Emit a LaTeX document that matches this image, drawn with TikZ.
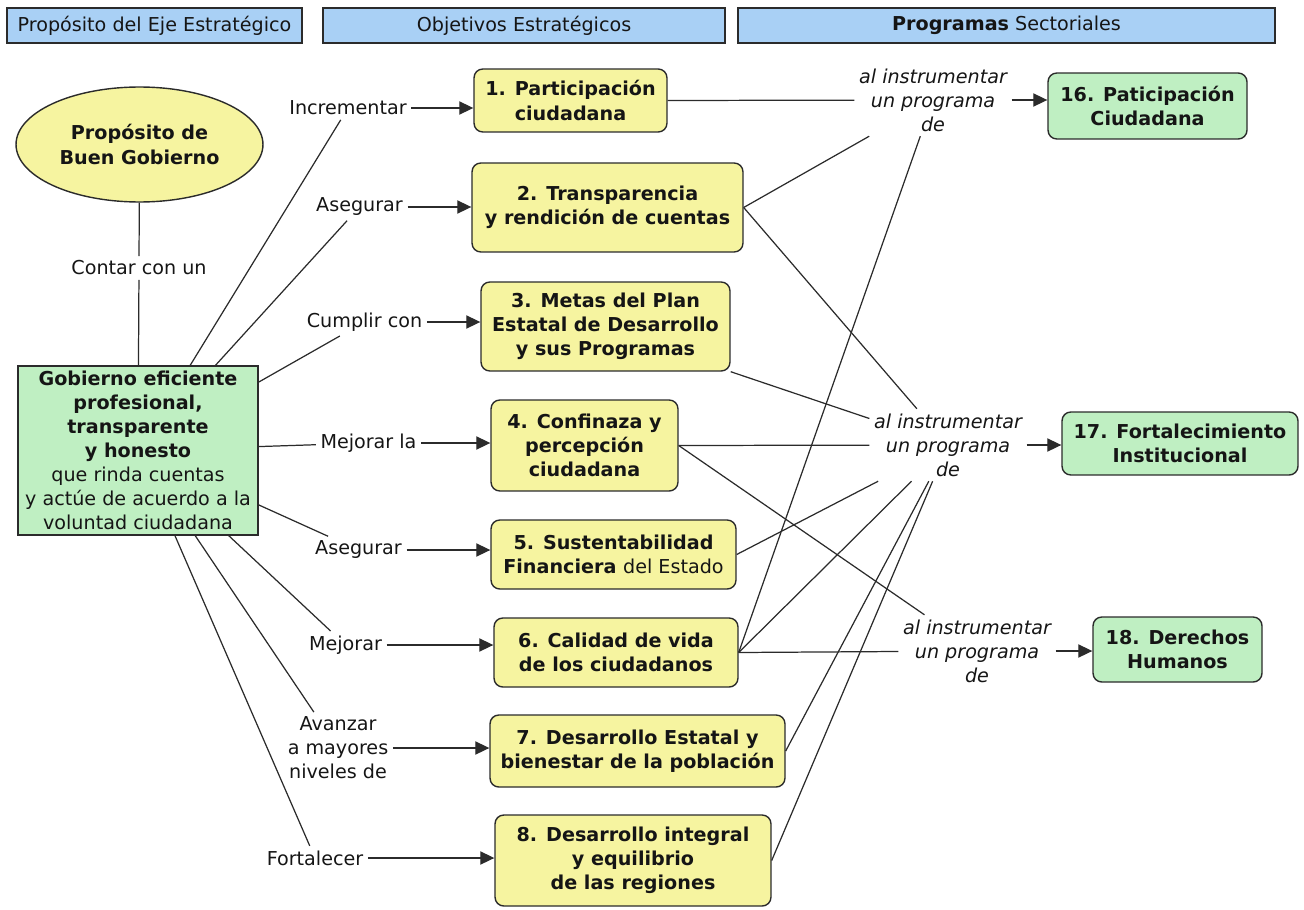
\documentclass[tikz,border=0pt]{standalone}
\usepackage{fontspec}
\setmainfont{DejaVu Sans}
\usetikzlibrary{positioning, arrows.meta, shapes.geometric, calc}
\definecolor{ink}{HTML}{151515}
\definecolor{edge}{HTML}{2B2B2B}
\definecolor{hdrblue}{HTML}{A9D0F5}
\definecolor{objyellow}{HTML}{F6F4A0}
\definecolor{prggreen}{HTML}{BFEFC2}
\tikzset{
  hd/.style={draw=edge, fill=hdrblue, text=ink, line width=0.8pt,
    minimum height=0.7cm, inner sep=0pt},
  obj/.style={rounded corners=5pt, draw=edge, line width=0.8pt, fill=objyellow,
    text=ink, font=\bfseries, align=center, inner sep=2pt},
  prg/.style={obj, fill=prggreen},
  vrb/.style={text=ink, align=center, inner sep=2.5pt},
  via/.style={vrb, font=\itshape},
  link/.style={line width=0.7pt, color=edge},
  flow/.style={-{Triangle[length=8pt,width=7.5pt]}, line width=0.8pt, color=edge},
}

\begin{document}
\fontsize{10.9}{13.7}\selectfont
\begin{tikzpicture}[x=0.02cm, y=-0.02cm]
  \useasboundingbox (0,0) rectangle (1304,909);
  % encabezados
  \node[hd, minimum width=5.9cm] (h1) at (154.5,25.5) {Propósito del Eje Estratégico};
  \node[hd, minimum width=8.04cm] (h2) at (524,25.5) {Objetivos Estratégicos};
  \node[hd, minimum width=10.74cm] (h3) at (1006.5,25.5) {\textbf{Programas} Sectoriales};

  % proposito y gobierno
  \node[obj, ellipse, minimum width=4.94cm, minimum height=2.3cm] (pbg) at (139.5,144.5) {Propósito de\\Buen Gobierno};
  \node[vrb] (cc) at (139,268) {Contar con un};
  \node[obj, sharp corners, fill=prggreen, minimum width=4.8cm, minimum height=3.38cm] (gob) at (138,450.5)
    {Gobierno eficiente\\profesional,\\transparente\\y honesto\\\mdseries que rinda cuentas\\
     \mdseries y actúe de acuerdo a la\\\mdseries voluntad ciudadana};

  % verbos
  \node[vrb] (v1) at (348,108) {Incrementar};
  \node[vrb] (v2) at (359.5,207) {Asegurar};
  \node[vrb] (v3) at (364.5,322) {Cumplir con};
  \node[vrb] (v4) at (368.5,443) {Mejorar la};
  \node[vrb] (v5) at (358.5,550) {Asegurar};
  \node[vrb] (v6) at (345.5,645) {Mejorar};
  \node[vrb] (v7) at (338,748) {Avanzar\\a mayores\\niveles de};
  \node[vrb] (v8) at (315,858) {Fortalecer};

  % objetivos
  \node[obj, minimum width=3.86cm, minimum height=1.26cm] (b1) at (570.5,100.5) {1. Participación\\ciudadana};
  \node[obj, minimum width=5.42cm, minimum height=1.78cm] (b2) at (607.5,207.5) {2. Transparencia\\y rendición de cuentas};
  \node[obj, minimum width=4.98cm, minimum height=1.78cm] (b3) at (605.5,326.5) {3. Metas del Plan\\Estatal de Desarrollo\\y sus Programas};
  \node[obj, minimum width=3.74cm, minimum height=1.82cm] (b4) at (584.5,445.5) {4. Confinaza y\\percepción\\ciudadana};
  \node[obj, minimum width=4.9cm, minimum height=1.38cm] (b5) at (613.5,554.5) {5. Sustentabilidad\\Financiera {\mdseries del Estado}};
  \node[obj, minimum width=4.88cm, minimum height=1.38cm] (b6) at (616,652.5) {6. Calidad de vida\\de los ciudadanos};
  \node[obj, minimum width=5.9cm, minimum height=1.44cm] (b7) at (637.5,751) {7. Desarrollo Estatal y\\bienestar de la población};
  \node[obj, minimum width=5.52cm, minimum height=1.82cm] (b8) at (633,860.5) {8. Desarrollo integral\\y equilibrio\\de las regiones};

  % vias y programas
  \node[via] (l1) at (933,100) {al instrumentar\\un programa\\de};
  \node[via] (l2) at (948,445) {al instrumentar\\un programa\\de};
  \node[via] (l3) at (977,651) {al instrumentar\\un programa\\de};
  \node[prg, minimum width=3.98cm, minimum height=1.32cm] (p16) at (1147.5,106) {16. Paticipación\\Ciudadana};
  \node[prg, minimum width=4.72cm, minimum height=1.26cm] (p17) at (1180,443.5) {17. Fortalecimiento\\Institucional};
  \node[prg, minimum width=3.38cm, minimum height=1.3cm] (p18) at (1177.5,649.5) {18. Derechos\\Humanos};

  % conexiones izquierda
  \draw[link] (pbg) -- (cc); \draw[link] (cc) -- (gob);
  \draw[link] (gob) -- (v1); \draw[link] (gob) -- (v2); \draw[link] (gob) -- (v3); \draw[link] (gob) -- (v4);
  \draw[link] (gob) -- (v5); \draw[link] (gob) -- (v6); \draw[link] (gob) -- (v7); \draw[link] (gob) -- (v8);
  \draw[flow] (v1) -- (v1 -| b1.west); \draw[flow] (v2) -- (v2 -| b2.west);
  \draw[flow] (v3) -- (v3 -| b3.west); \draw[flow] (v4) -- (v4 -| b4.west);
  \draw[flow] (v5) -- (v5 -| b5.west); \draw[flow] (v6) -- (v6 -| b6.west);
  \draw[flow] (v7) -- (v7 -| b7.west); \draw[flow] (v8) -- (v8 -| b8.west);

  % conexiones derecha
  \draw[link] (b1.east) -- (l1); \draw[link] (b2.east) -- (l1); \draw[link] (b6.east) -- (l1);
  \draw[link] (b2.east) -- (l2); \draw[link] (b3.south east) -- (l2); \draw[link] (b4.east) -- (l2);
  \draw[link] (b5.east) -- (l2); \draw[link] (b6.east) -- (l2); \draw[link] (b7.east) -- (l2);
  \draw[link] (b8.east) -- (l2);
  \draw[link] (b4.east) -- (l3); \draw[link] (b6.east) -- (l3);
  \draw[flow] (l1) -- (l1 -| p16.west); \draw[flow] (l2) -- (l2 -| p17.west);
  \draw[flow] (l3) -- (l3 -| p18.west);
\end{tikzpicture}
\end{document}
